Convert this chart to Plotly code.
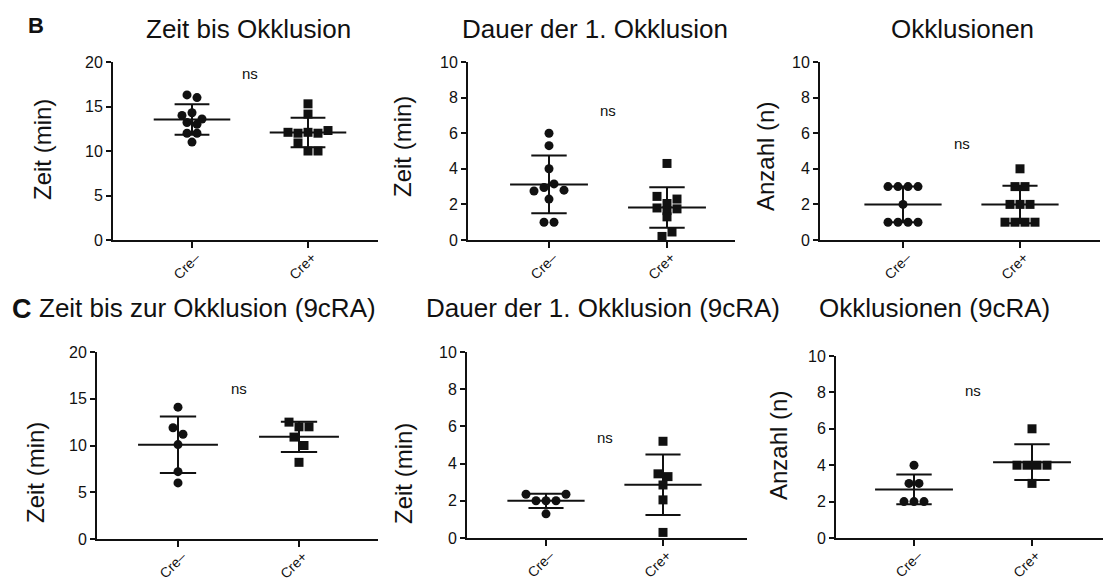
import numpy as np
import plotly.graph_objects as go

W, H = 1104, 584

groups = ["Cre–", "Cre+"]

# B: Zeit bis Okklusion (min)
b_zeit_neg = [16.3, 16.0, 14.0, 14.3, 13.6, 13.2, 13.0, 12.0, 12.0, 11.0]
b_zeit_pos = [15.3, 14.15, 12.1, 12.0, 12.1, 12.0, 12.3, 10.9, 10.0, 10.0]
# B: Dauer der 1. Okklusion (min)
b_dauer_neg = [6.0, 5.3, 4.0, 2.75, 2.95, 3.15, 2.8, 2.3, 1.0, 1.0]
b_dauer_pos = [4.3, 2.45, 2.05, 2.3, 1.8, 1.65, 1.75, 1.3, 0.2, 0.45]
# B: Okklusionen (Anzahl)
b_anzahl_neg = [3, 3, 3, 3, 2, 1, 1, 1, 1]
b_anzahl_pos = [4, 3, 3, 2, 2, 2, 1, 1, 1, 1]
# C: 9cRA
c_zeit_neg = [14.1, 11.9, 11.2, 10.1, 7.2, 6.0]
c_zeit_pos = [12.5, 12.0, 12.0, 10.9, 10.0, 8.2]
c_dauer_neg = [2.35, 2.0, 2.0, 2.0, 2.35, 1.3]
c_dauer_pos = [5.2, 3.45, 3.3, 2.85, 2.05, 0.3]
c_anzahl_neg = [4, 3, 3, 2, 2, 2]
c_anzahl_pos = [6, 4, 4, 4, 4, 3]

titles = ["Zeit bis Okklusion", "Dauer der 1. Okklusion", "Okklusionen",
          "Zeit bis zur Okklusion (9cRA)", "Dauer der 1. Okklusion (9cRA)",
          "Okklusionen (9cRA)"]
y_titles = ["Zeit (min)", "Zeit (min)", "Anzahl (n)",
            "Zeit (min)", "Zeit (min)", "Anzahl (n)"]
ticks_zeit = [0, 5, 10, 15, 20]
ticks_kurz = [0, 2, 4, 6, 8, 10]
sig_labels = ["ns"] * 6

panels_data = [
    (b_zeit_neg, b_zeit_pos, ticks_zeit),
    (b_dauer_neg, b_dauer_pos, ticks_kurz),
    (b_anzahl_neg, b_anzahl_pos, ticks_kurz),
    (c_zeit_neg, c_zeit_pos, ticks_zeit),
    (c_dauer_neg, c_dauer_pos, ticks_kurz),
    (c_anzahl_neg, c_anzahl_pos, ticks_kurz),
]

# pixel frame of each panel: axis left, axis right, group 0, group 1, top, bottom
frames = [
    (113, 378, 192, 308, 62, 240),
    (468, 735, 549, 667, 62, 240),
    (820, 1100, 903, 1020, 62, 240),
    (97, 378, 178, 299, 352, 539),
    (467, 747, 546, 663, 352, 538),
    (836, 1103, 914, 1032, 356, 538),
]
# title centres (x, y) in pixels
title_pos = [(248, 29), (595, 29), (962, 29),
             (207, 308), (603, 308), (934, 308)]
ytitle_pos = [(42, 150), (403, 147), (765, 157), (35, 473), (403, 474), (778, 446)]
sig_y = [18.7, 7.3, 5.4, 16.1, 5.4, 8.1]

INK = "#111111"
FONT = "Liberation Sans, Arial, sans-serif"


def px_x(p):
    return p / W


def px_y(p):
    return 1 - p / H


def swarm_offsets(values, px_per_unit, cat_px, gap_px=10.0, row_px=8.5):
    """Prism-like column scatter: bin nearby values into rows, centre each row."""
    v = np.asarray(values, float)
    order = sorted(range(len(v)), key=lambda i: -v[i])
    rows = []
    for i in order:
        if rows and (v[rows[-1][0]] - v[i]) * px_per_unit < row_px:
            rows[-1].append(i)
        else:
            rows.append([i])
    off = np.zeros(len(v))
    for row in rows:
        row = sorted(row)
        n = len(row)
        for k, i in enumerate(row):
            off[i] = (k - (n - 1) / 2) * gap_px / cat_px
    return off


fig = go.Figure()
annotations = []
layout = {}

for p, ((neg, pos, yticks), fr) in enumerate(zip(panels_data, frames)):
    n = p + 1
    xa = "x" if n == 1 else f"x{n}"
    ya = "y" if n == 1 else f"y{n}"
    left, right, c0, c1, top, bottom = fr
    cat_px = c1 - c0
    ymax = yticks[-1]
    ppu = (bottom - top) / ymax

    mean_x, mean_y = [], []
    for g, (vals, sym) in enumerate([(neg, "circle"), (pos, "square")]):
        vals = np.asarray(vals, float)
        off = swarm_offsets(vals, ppu, cat_px)
        fig.add_trace(go.Scatter(
            x=g + off, y=vals, mode="markers", xaxis=xa, yaxis=ya,
            marker=dict(symbol=sym, size=9, color=INK, line=dict(width=0)),
            cliponaxis=False, hoverinfo="y", showlegend=False))
        m = vals.mean()
        sd = vals.std(ddof=1)
        mean_x += [g - 0.33, g + 0.33, None, g, g, None,
                   g - 0.15, g + 0.15, None, g - 0.15, g + 0.15, None]
        mean_y += [m, m, None, m - sd, m + sd, None,
                   m + sd, m + sd, None, m - sd, m - sd, None]
    fig.add_trace(go.Scatter(
        x=mean_x, y=mean_y, mode="lines", xaxis=xa, yaxis=ya,
        line=dict(color=INK, width=2), cliponaxis=False,
        hoverinfo="skip", showlegend=False))

    x_range = [(left - c0) / cat_px, (right - c0) / cat_px]
    layout["xaxis" if n == 1 else f"xaxis{n}"] = dict(
        domain=[px_x(left), px_x(right)], range=x_range, anchor=ya,
        automargin=False,
        tickvals=[0, 1], ticktext=groups, tickangle=-45,
        ticks="outside", ticklen=6, tickwidth=2, tickcolor=INK,
        ticklabelshift=4, ticklabelstandoff=-4,
        showline=True, linewidth=2, linecolor=INK, showgrid=False,
        zeroline=False, tickfont=dict(family=FONT, size=14, color=INK))
    layout["yaxis" if n == 1 else f"yaxis{n}"] = dict(
        domain=[px_y(bottom), px_y(top)], range=[0, ymax], anchor=xa,
        automargin=False,
        tickvals=yticks, ticks="outside", ticklen=5, tickwidth=2,
        tickcolor=INK, showline=True, linewidth=2, linecolor=INK,
        showgrid=False, zeroline=False,
        tickfont=dict(family=FONT, size=16, color=INK))

    tx, ty = title_pos[p]
    annotations.append(dict(
        text=titles[p], x=px_x(tx), y=px_y(ty), xref="paper", yref="paper",
        xanchor="center", yanchor="middle", showarrow=False,
        font=dict(family=FONT, size=26, color=INK)))
    yx, yy = ytitle_pos[p]
    annotations.append(dict(
        text=y_titles[p], x=px_x(yx), y=px_y(yy), xref="paper", yref="paper",
        xanchor="center", yanchor="middle", textangle=-90, showarrow=False,
        font=dict(family=FONT, size=24, color=INK)))
    annotations.append(dict(
        text=sig_labels[p], x=0.5, y=sig_y[p], xref=xa, yref=ya,
        xanchor="center", yanchor="middle", showarrow=False,
        font=dict(family=FONT, size=15, color=INK)))

# panel letters
annotations.append(dict(text="<b>B</b>", x=px_x(36), y=px_y(25), xref="paper",
                        yref="paper", xanchor="center", yanchor="middle",
                        showarrow=False, font=dict(family=FONT, size=22, color=INK)))
annotations.append(dict(text="<b>C</b>", x=px_x(22), y=px_y(309), xref="paper",
                        yref="paper", xanchor="center", yanchor="middle",
                        showarrow=False, font=dict(family=FONT, size=27, color=INK)))

fig.update_layout(
    width=W, height=H, margin=dict(l=0, r=0, t=0, b=0, autoexpand=False),
    paper_bgcolor="white", plot_bgcolor="white", showlegend=False,
    annotations=annotations, **layout)

fig.write_html("out.html")
